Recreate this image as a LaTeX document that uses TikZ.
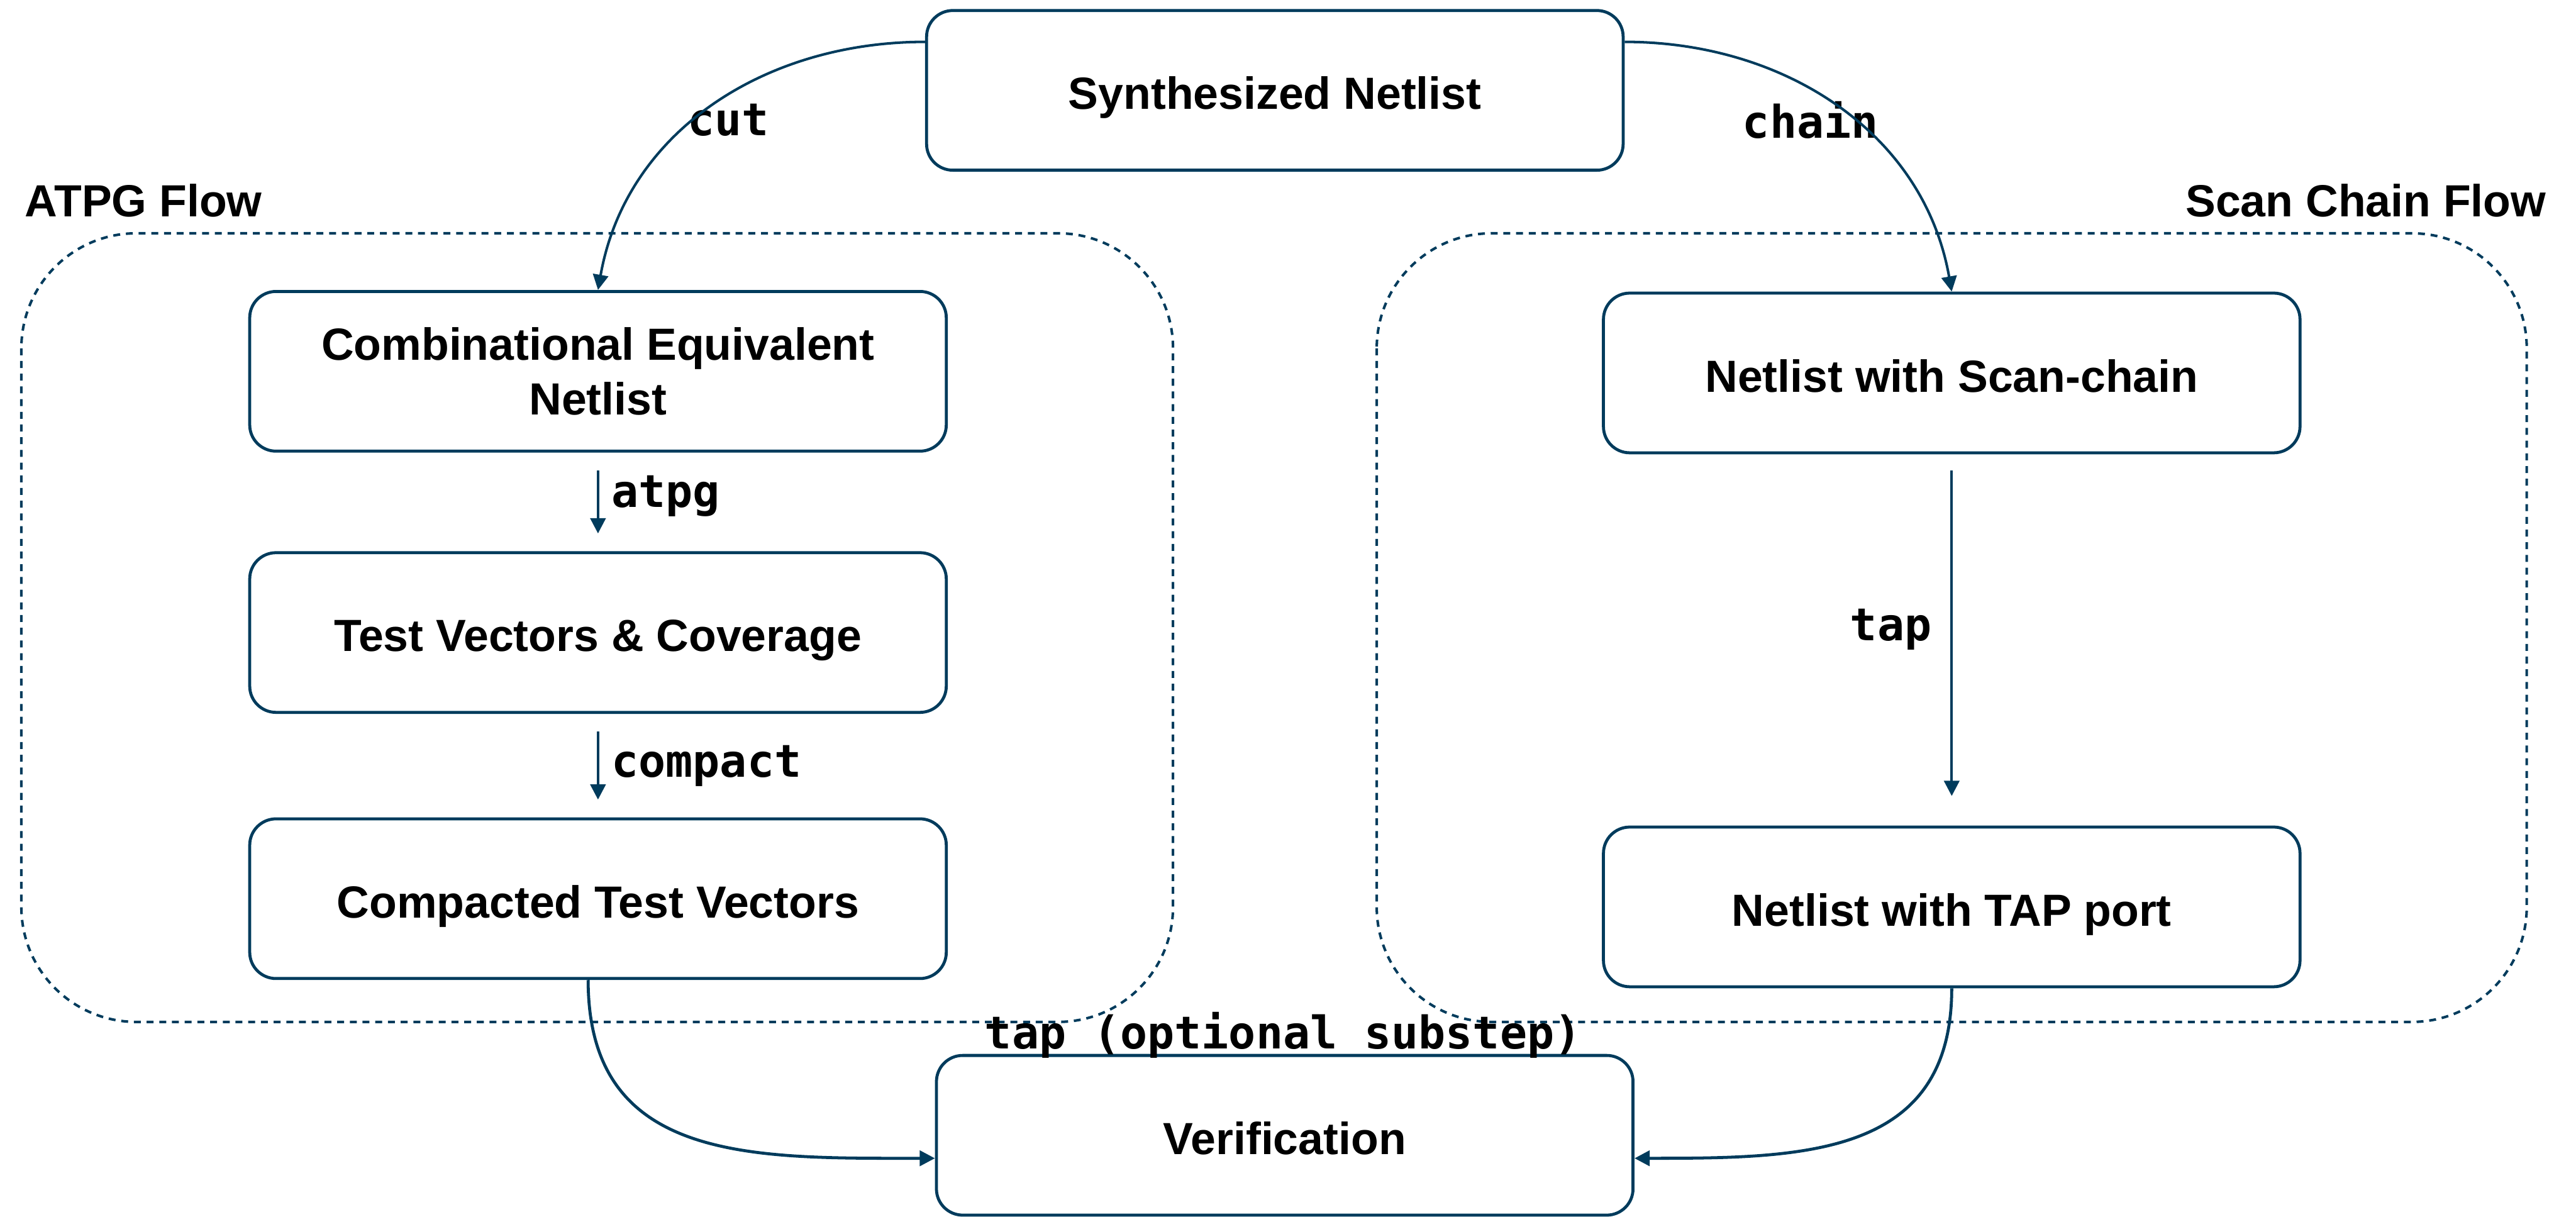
\documentclass[tikz,border=0pt]{standalone}
\usepackage{fontspec}
\setmainfont{Liberation Sans}
\setmonofont{DejaVu Sans Mono}
\usetikzlibrary{arrows.meta}

\definecolor{flowblue}{RGB}{0,59,92}

\tikzset{
    stepbox/.style={draw=flowblue, line width=1.3pt, rounded corners=0.4cm,
        minimum width=10.6cm, minimum height=2.43cm, align=center,
        text height=20pt, text depth=3.6pt,
        font=\fontsize{19.5}{23.5}\selectfont\bfseries},
    flowframe/.style={draw=flowblue, line width=1.1pt,
        dash pattern=on 3pt off 2.5pt, rounded corners=1.75cm},
    steparrow/.style={draw=flowblue, line width=1.1pt,
        -{Triangle[width=6.6pt,length=6.6pt]}},
    cmdlabel/.style={inner sep=0pt, font=\fontsize{19.5}{23.5}\selectfont\ttfamily\bfseries},
    flowtitle/.style={inner sep=0pt, font=\fontsize{19.5}{23.5}\selectfont\bfseries}
}

\begin{document}
\begin{tikzpicture}

    \useasboundingbox (0,0) rectangle (39.2,-18.51);

    % flow frames
    \draw[flowframe] (0.325,-3.55) rectangle (17.85,-15.55);
    \draw[flowframe] (20.95,-3.55) rectangle (38.45,-15.55);
    \node[flowtitle, anchor=west] (atpgtitle) at (0.375,-3.05) {ATPG Flow};
    \node[flowtitle, anchor=east] (scantitle) at (38.75,-3.05) {Scan Chain Flow};

    % netlist at the top
    \node[stepbox] (synth) at (19.4,-1.375) {Synthesized Netlist};

    % atpg flow
    \node[stepbox, text height={}, text depth={}] (comb) at (9.1,-5.65) {Combinational Equivalent\\Netlist};
    \node[stepbox] (vectors) at (9.1,-9.625) {Test Vectors \& Coverage};
    \node[stepbox] (compacted) at (9.1,-13.675) {Compacted Test Vectors};

    % scan chain flow
    \node[stepbox] (scanchain) at (29.7,-5.675) {Netlist with Scan-chain};
    \node[stepbox] (tapport) at (29.7,-13.8) {Netlist with TAP port};

    % verification
    \node[stepbox] (verif) at (19.55,-17.275) {Verification};

    % commands
    \node[cmdlabel] (cutlabel) at (11.08,-1.83) {cut};
    \node[cmdlabel] (chainlabel) at (27.55,-1.83) {chain};
    \node[cmdlabel, anchor=west] (atpglabel) at (9.3,-7.55) {atpg};
    \node[cmdlabel, anchor=west] (compactlabel) at (9.3,-11.65) {compact};
    \node[cmdlabel, anchor=east] (taplabel) at (29.4,-9.575) {tap};
    \node[cmdlabel] (optlabel) at (19.525,-15.75) {tap (optional substep)};

    \draw[steparrow] ([yshift=-0.5cm]synth.north west) to[out=180, in=80] (comb.north);
    \draw[steparrow] ([yshift=-0.5cm]synth.north east) to[out=0, in=100] (scanchain.north);
    \draw[steparrow, shorten <=0.27cm, shorten >=0.27cm] (comb.south) -- (vectors.north);
    \draw[steparrow, shorten <=0.27cm, shorten >=0.27cm] (vectors.south) -- (compacted.north);
    \draw[steparrow, shorten <=0.25cm, shorten >=0.45cm] (scanchain.south) -- (tapport.north);
    \draw[steparrow, line width=1.3pt] ([xshift=-0.15cm]compacted.south) to[out=-90, in=180, looseness=1.2] ([yshift=-0.35cm]verif.west);
    \draw[steparrow, line width=1.3pt] (tapport.south) to[out=-90, in=0, looseness=1.2] ([yshift=-0.35cm]verif.east);

\end{tikzpicture}
\end{document}
